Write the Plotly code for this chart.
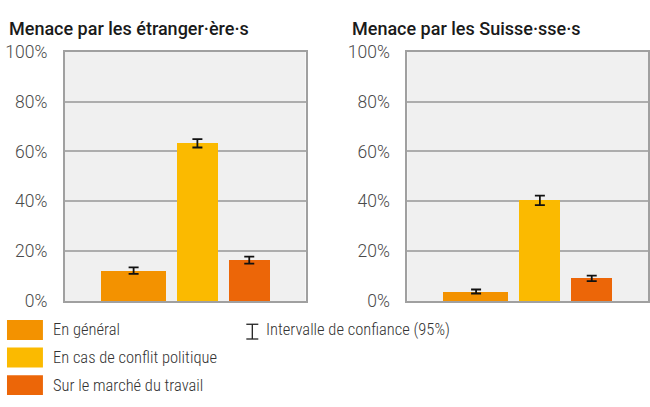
import plotly.graph_objects as go

categories = ["En général", "En cas de conflit politique", "Sur le marché du travail"]
panel_titles = ["Menace par les étranger·ère·s", "Menace par les Suisse·sse·s"]
values_etrangers = [12.2, 63.3, 16.4]
errors_etrangers = [1.3, 1.7, 1.4]
values_suisses = [3.8, 40.4, 9.1]
errors_suisses = [0.8, 1.9, 1.1]
ci_label = "Intervalle de confiance (95%)"
tick_vals = [0, 20, 40, 60, 80, 100]
tick_text = ["0%", "20%", "40%", "60%", "80%", "100%"]

colors = ["#F39200", "#FBBA00", "#EC6608"]
bar_widths = [1.25, 0.79, 0.79]
xpos = [0, 1, 2]

W, H = 650, 407
fig = go.Figure()

panels = [(values_etrangers, errors_etrangers), (values_suisses, errors_suisses)]
for i, (vals, errs) in enumerate(panels):
    xa = "x" if i == 0 else "x2"
    ya = "y" if i == 0 else "y2"
    fig.add_trace(go.Bar(
        x=xpos, y=vals, width=bar_widths, offset=[-w for w in bar_widths],
        marker=dict(color=colors, line=dict(width=0)),
        xaxis=xa, yaxis=ya, showlegend=False, hoverinfo="skip",
    ))
    centers = [x - w / 2 for x, w in zip(xpos, bar_widths)]
    fig.add_trace(go.Scatter(
        x=centers, y=vals, mode="markers",
        marker=dict(size=1, color="rgba(0,0,0,0)"),
        error_y=dict(type="data", array=errs, color="#111111", thickness=1.8, width=5),
        xaxis=xa, yaxis=ya, showlegend=False, hoverinfo="skip",
    ))

xdoms = [[65 / W, 306 / W], [408 / W, 649 / W]]
ydom = [1 - 306 / H, 1 - 44 / H]
axis_common_x = dict(range=[-1.95, 2.69], showticklabels=False, ticks="", showgrid=False,
                     zeroline=False, showline=True, linecolor="#A0A0A0", linewidth=2, mirror=True,
                     fixedrange=True)
axis_common_y = dict(range=[0, 100], tickvals=tick_vals, ticktext=tick_text, showgrid=True,
                     gridcolor="#ADADAD", gridwidth=1.5, zeroline=False, showline=True,
                     linecolor="#A0A0A0", linewidth=2, mirror=True, ticks="",
                     tickfont=dict(family="Roboto", size=17.5, color="#4a4a4a", weight=300),
                     ticklabelstandoff=12, fixedrange=True)

fig.update_layout(
    xaxis=dict(domain=xdoms[0], anchor="y", **axis_common_x),
    yaxis=dict(domain=ydom, anchor="x", **axis_common_y),
    xaxis2=dict(domain=xdoms[1], anchor="y2", **axis_common_x),
    yaxis2=dict(domain=ydom, anchor="x2", **axis_common_y),
    width=W, height=H, margin=dict(l=0, r=0, t=0, b=0),
    paper_bgcolor="white", plot_bgcolor="#F0F0F0",
    bargap=0, showlegend=False,
)

annotations = []
shapes = []
title_x = [7, 351]
for tx, t in zip(title_x, panel_titles):
    annotations.append(dict(x=tx / W, y=1 - 19 / H, xref="paper", yref="paper", text=t,
                            showarrow=False, xanchor="left", yanchor="middle",
                            font=dict(family="Roboto", size=18, color="#1a1a1a", weight=500)))

legend_font = dict(family="Roboto Condensed, Liberation Sans Narrow, Roboto", size=16.5,
                   color="#333333", weight=300)
row_y = [336.5, 365.5, 394.5]
for c, lab, ry in zip(colors, categories, row_y):
    shapes.append(dict(type="rect", xref="paper", yref="paper",
                       x0=7 / W, x1=43 / W, y0=1 - (ry + 10.5) / H, y1=1 - (ry - 10.5) / H,
                       fillcolor=c, line=dict(width=0)))
    annotations.append(dict(x=51 / W, y=1 - ry / H, xref="paper", yref="paper", text=lab,
                            showarrow=False, xanchor="left", yanchor="middle", font=legend_font))

cx, cy0, cy1 = 252.7, 330.5, 346
for s in [dict(x0=cx, x1=cx, y0=cy0, y1=cy1), dict(x0=cx - 6, x1=cx + 6, y0=cy0, y1=cy0),
          dict(x0=cx - 6, x1=cx + 6, y0=cy1, y1=cy1)]:
    shapes.append(dict(type="line", xref="paper", yref="paper",
                       x0=s["x0"] / W, x1=s["x1"] / W, y0=1 - s["y0"] / H, y1=1 - s["y1"] / H,
                       line=dict(color="#222222", width=1.3)))
annotations.append(dict(x=264 / W, y=1 - 336.5 / H, xref="paper", yref="paper", text=ci_label,
                        showarrow=False, xanchor="left", yanchor="middle", font=legend_font))

fig.update_layout(annotations=annotations, shapes=shapes)
fig.write_html("out.html", config={"displayModeBar": False},
               post_script="document.body.style.margin='0';document.body.style.overflow='hidden';")
